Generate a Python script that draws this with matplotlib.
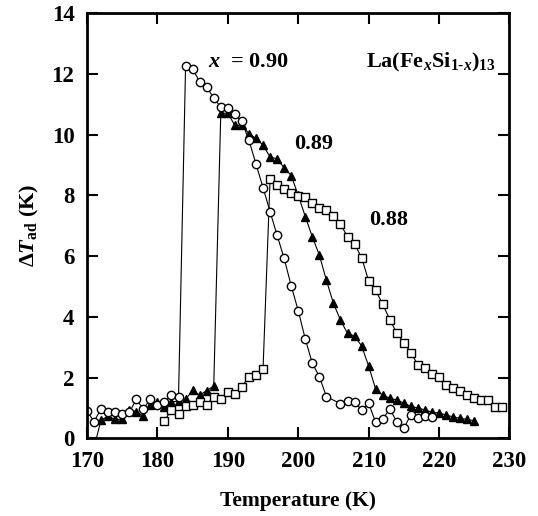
import matplotlib
matplotlib.use('Agg')
import matplotlib.pyplot as plt

plt.rcParams['font.family'] = 'Liberation Serif'
plt.rcParams['font.weight'] = 'bold'
plt.rcParams['mathtext.fontset'] = 'custom'
plt.rcParams['mathtext.rm'] = 'Liberation Serif:bold'
plt.rcParams['mathtext.bf'] = 'Liberation Serif:bold'
plt.rcParams['mathtext.it'] = 'Liberation Serif:italic:bold'

# x = 0.90 (open circles)
t90 = [170, 171, 172, 173, 174, 175, 176, 177, 178, 179, 180, 181, 182, 183,
       184, 185, 186, 187, 188, 189, 190, 191, 192, 193, 194, 195, 196, 197,
       198, 199, 200, 201, 202, 203, 204, 206, 207, 208, 209, 210, 211, 212,
       213, 214, 215, 216, 217, 218, 219]
dt90 = [0.9, 0.55, 0.97, 0.87, 0.88, 0.8, 0.85, 1.28, 0.97, 1.29, 1.1, 1.2, 1.41, 1.37,
        12.25, 12.17, 11.73, 11.57, 11.2, 10.9, 10.87, 10.67, 10.43, 9.81, 9.03, 8.25, 7.46, 6.68,
        5.92, 5.02, 4.2, 3.27, 2.47, 2.03, 1.37, 1.14, 1.24, 1.18, 0.94, 1.15, 0.52, 0.63,
        0.97, 0.54, 0.33, 0.78, 0.66, 0.73, 0.71]

# x = 0.89 (filled triangles)
t89 = [171, 172, 173, 174, 175, 176, 177, 178, 179, 180, 181, 182, 183, 184,
       185, 186, 187, 188, 189, 190, 191, 192, 193, 194, 195, 196, 197, 198,
       199, 200, 201, 202, 203, 204, 205, 206, 207, 208, 209, 210, 211, 212,
       213, 214, 215, 216, 217, 218, 219, 220, 221, 222, 223, 224, 225]
dt89 = [-0.3, 0.6, 0.73, 0.62, 0.63, 0.93, 0.88, 0.73, 1.1, 1.2, 1.04, 1.2, 1.22, 1.28,
        1.58, 1.42, 1.57, 1.72, 10.7, 10.7, 10.3, 10.3, 10.03, 9.87, 9.65, 9.26, 9.2, 8.9,
        8.65, 8.0, 7.3, 6.63, 6.03, 5.2, 4.44, 3.89, 3.45, 3.37, 3.04, 2.38, 1.61, 1.42,
        1.32, 1.26, 1.16, 1.05, 1.0, 0.93, 0.86, 0.83, 0.77, 0.7, 0.66, 0.62, 0.58]

# x = 0.88 (open squares)
t88 = [181, 182, 183, 184, 185, 186, 187, 188, 189, 190, 191, 192, 193, 194,
       195, 196, 197, 198, 199, 200, 201, 202, 203, 204, 205, 206, 207, 208,
       209, 210, 211, 212, 213, 214, 215, 216, 217, 218, 219, 220, 221, 222,
       223, 224, 225, 226, 227, 228, 229]
dt88 = [0.58, 0.93, 0.8, 1.06, 1.1, 1.2, 1.1, 1.37, 1.3, 1.53, 1.46, 1.7, 2.03, 2.07,
        2.27, 8.55, 8.33, 8.22, 8.08, 7.97, 7.95, 7.73, 7.57, 7.51, 7.31, 7.05, 6.63, 6.39,
        5.95, 5.18, 4.87, 4.41, 3.91, 3.46, 3.15, 2.82, 2.41, 2.33, 2.11, 2.03, 1.75, 1.64,
        1.57, 1.42, 1.32, 1.26, 1.26, 1.04, 1.02]

fig = plt.figure(figsize=(5.38, 5.16), dpi=100)
ax = fig.add_axes([0.1617, 0.1506, 0.7853, 0.8242])

ax.plot(t89, dt89, color='black', lw=0.8, marker='^', ms=6, mfc='black', mec='black')
ax.plot(t88, dt88, color='black', lw=0.8, marker='s', ms=6, mfc='white', mec='black', mew=1.0)
ax.plot(t90, dt90, color='black', lw=0.8, marker='o', ms=6, mfc='white', mec='black', mew=1.0)

ax.set_xlim(170, 230)
ax.set_ylim(0, 14)
ax.set_xticks(range(170, 231, 10))
ax.set_yticks(range(0, 15, 2))
ax.tick_params(direction='in', length=8, width=1.5, top=True, right=True,
               labelsize=16.5, pad=9)
for s in ax.spines.values():
    s.set_linewidth(2)

ax.set_xlabel('Temperature (K)', fontsize=15.5, fontweight='bold', labelpad=14)
ax.set_ylabel(r'$\Delta \mathit{T}_{\mathrm{ad}}$ (K)', fontsize=16, fontweight='bold', labelpad=8)

ax.text(187.2, 12.38, r'$\mathit{x}$  = 0.90', fontsize=16, fontweight='bold', ha='left', va='center')
ax.text(202.2, 9.7, '0.89', fontsize=16, fontweight='bold', ha='center', va='center')
ax.text(212.8, 7.18, '0.88', fontsize=16, fontweight='bold', ha='center', va='center')
ax.text(228.0, 12.38, r'La(Fe$_{\mathit{x}}$Si$_{1\text{-}\mathit{x}}$)$_{13}$', fontsize=16,
        fontweight='bold', ha='right', va='center')

fig.savefig('out.png', dpi=100)
